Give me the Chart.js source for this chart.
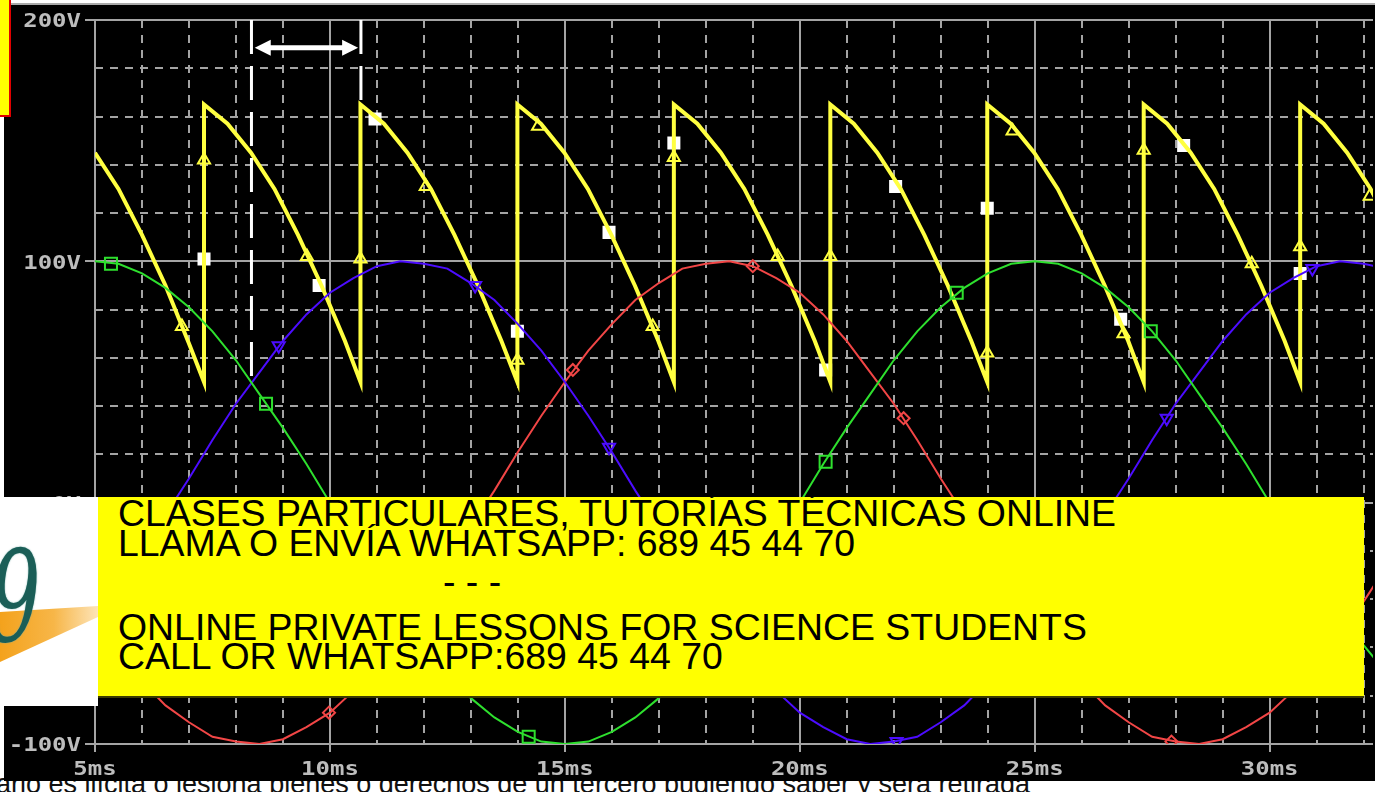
<!DOCTYPE html>
<html>
<head>
<meta charset="utf-8">
<script src="https://cdn.jsdelivr.net/npm/chart.js@4.4.0/dist/chart.umd.min.js"></script>
<style>
html, body { margin: 0; padding: 0; width: 1375px; height: 792px; overflow: hidden; background: #fff; position: relative; }
#foot { position: absolute; left: -4px; top: 771px; font: 27px "Liberation Sans", Arial, sans-serif; line-height: 27px; color: #111; white-space: nowrap; z-index: 0; }
#scope { position: absolute; left: 4px; top: 5px; width: 1371px; height: 776px; background: #000; z-index: 1; }
#topline { position: absolute; left: 0; top: 3px; width: 1375px; height: 2px; background: #a9a9a9; z-index: 1; }
#c { position: absolute; left: 0; top: 0; z-index: 2; }
#tag { position: absolute; left: 0; top: 0; width: 9px; height: 115px; background: #ffff00; border-right: 2px solid #e00000; border-bottom: 2px solid #e00000; z-index: 3; }
#logo { position: absolute; left: 0; top: 497px; width: 98px; height: 209px; background: #fff; overflow: hidden; z-index: 3; }
#logo .swoosh { position: absolute; left: 0; top: 0; width: 98px; height: 209px;
  background: linear-gradient(90deg, #f4a21c 0%, #f7b648 55%, #fde4b8 100%);
  clip-path: polygon(0 115px, 98px 109px, 98px 120px, 0 165px); }
#logo .nine { position: absolute; left: -10px; top: 36px; font: italic 128px "DejaVu Serif", serif; line-height: 128px; color: #1b5e57; transform: scaleX(0.62); transform-origin: 0 0; text-shadow: 0 0 2px #6fa9a2; }
#ad { position: absolute; left: 98px; top: 497px; width: 1266px; height: 199px; background: #ffff00; border-bottom: 2px solid #3a3a00; overflow: hidden; z-index: 3; }
#ad div { position: absolute; left: 20px; font: 37.4px "Liberation Sans", Arial, sans-serif; line-height: 37px; color: #000; white-space: nowrap; }
</style>
</head>
<body>
<div id="foot">ario es ilícita o lesiona bienes o derechos de un tercero pudiendo saber y será retirada</div>
<div id="scope"></div>
<div id="topline"></div>
<canvas id="c" width="1375" height="792"></canvas>
<div id="tag"></div>
<div id="logo"><div class="swoosh"></div><span class="nine">9</span></div>
<div id="ad">
  <div style="top:-2px">CLASES PARTICULARES, TUTORÍAS TÉCNICAS ONLINE</div>
  <div style="top:28px">LLAMA O ENVÍA WHATSAPP: 689 45 44 70</div>
  <div style="top:66px;left:345px">- - -</div>
  <div style="top:112px">ONLINE PRIVATE LESSONS FOR SCIENCE STUDENTS</div>
  <div style="top:141px">CALL OR WHATSAPP:689 45 44 70</div>
</div>
<script>
// time axis samples (ms) for the three phase voltages
const timeMs = [5,5.5,6,6.5,7,7.5,8,8.5,9,9.5,10,10.5,11,11.5,12,12.5,13,13.5,14,14.5,
  15,15.5,16,16.5,17,17.5,18,18.5,19,19.5,20,20.5,21,21.5,22,22.5,23,23.5,24,24.5,
  25,25.5,26,26.5,27,27.5,28,28.5,29,29.5,30,30.5,31,31.5,32,32.5];
// phase voltages (V)
const phaseGreen = [100,99,95,89,81,71,59,45,31,16,0,-16,-31,-45,-59,-71,-81,-89,-95,-99,
  -100,-99,-95,-89,-81,-71,-59,-45,-31,-16,0,16,31,45,59,71,81,89,95,99,
  100,99,95,89,81,71,59,45,31,16,0,-16,-31,-45,-59,-71];
const phaseBlue = [-50,-36,-21,-5,10,26,41,54,67,78,87,93,98,100,99,97,91,84,74,63,
  50,36,21,5,-10,-26,-41,-54,-67,-78,-87,-93,-98,-100,-99,-97,-91,-84,-74,-63,
  -50,-36,-21,-5,10,26,41,54,67,78,87,93,98,100,99,97];
const phaseRed = [-50,-63,-74,-84,-91,-97,-99,-100,-98,-93,-87,-78,-67,-54,-41,-26,-10,5,21,36,
  50,63,74,84,91,97,99,100,98,93,87,78,67,54,41,26,10,-5,-21,-36,
  -50,-63,-74,-84,-91,-97,-99,-100,-98,-93,-87,-78,-67,-54,-41,-26];

// rectified output (yellow)
const outT = [5,5.5,6,6.5,7,7.32,
  7.32,7.82,8.32,8.82,9.32,9.82,10.32,10.65,
  10.65,11.15,11.65,12.15,12.65,13.15,13.65,13.99,
  13.99,14.49,14.99,15.49,15.99,16.49,16.99,17.32,
  17.32,17.82,18.32,18.82,19.32,19.82,20.32,20.65,
  20.65,21.15,21.65,22.15,22.65,23.15,23.65,23.99,
  23.99,24.49,24.99,25.49,25.99,26.49,26.99,27.32,
  27.32,27.82,28.32,28.82,29.32,29.82,30.32,30.65,
  30.65,31.15,31.65,32.15,32.65];
const outV = [145,130,111,90,66,50,
  165,157,145,130,111,90,67,50,
  165,157,145,130,111,90,67,50,
  165,157,145,130,111,90,67,50,
  165,157,145,130,111,90,67,50,
  165,157,145,130,111,90,67,50,
  165,157,145,130,111,90,67,50,
  165,157,145,130,111,90,67,50,
  165,157,145,130,111];

// trace markers
const triT = [6.85,7.32,9.51,10.65,12.04,13.99,14.43,16.87,17.32,19.53,20.65,23.99,24.53,26.89,27.32,29.62,30.65,32.13];
const triV = [73,142,102,101,131,59,156,73,143,102,102,62,154,70,146,99,106,127];
const sqT = [7.32,9.77,10.96,13.99,15.94,17.32,20.55,22.04,23.99,26.83,28.17,30.65];
const sqV = [101,90,159,71,112,149,55,131,122,76,148,95];
const greenMarkT = [5.34,8.64,14.23,20.55,23.34,27.47];
const greenMarkV = [99,41,-97,17,87,71];
const blueMarkT = [8.91,13.09,15.94,22.06,27.81,30.91];
const blueMarkV = [65,90,23,-99,35,97];
const redMarkT = [9.98,15.17,19.0,22.21,27.91];
const redMarkV = [-87,55,98,35,-99];

// axis labels
const xTicks = [5,10,15,20,25,30];
const xLabels = ["5ms","10ms","15ms","20ms","25ms","30ms"];
const yTicks = [200,100,0,-100];
const yLabels = ["200V","100V","0V","-100V"];

// measurement cursors
const cursorT = [8.33,10.66];
const cursorLow = [50,165];
const arrowT = [8.40,10.60];
const arrowV = 188.5;

const pts = (xs, ys) => xs.map((v, i) => ({ x: v, y: ys[i] }));
const GRID = "#a4a4a4";

function line(data, color, width) {
  return { data, showLine: true, borderColor: color, borderWidth: width, pointRadius: 0, tension: 0, fill: false };
}
function marks(data, style, radius, color, fillColor, rotation) {
  return { data, showLine: false, pointStyle: style, pointRadius: radius, pointRotation: rotation || 0,
    pointBorderColor: color, pointBackgroundColor: fillColor, pointBorderWidth: 2 };
}

const scopePlugin = {
  id: "scope",
  afterDatasetsDraw(chart) {
    const { ctx, scales: { x, y } } = chart;
    ctx.save();
    ctx.strokeStyle = "#fff";
    ctx.lineWidth = 3;
    ctx.setLineDash([34, 12]);
    cursorT.forEach((t, i) => {
      ctx.beginPath();
      ctx.moveTo(x.getPixelForValue(t), y.getPixelForValue(200));
      ctx.lineTo(x.getPixelForValue(t), y.getPixelForValue(cursorLow[i]));
      ctx.stroke();
    });
    ctx.setLineDash([]);
    const ay = y.getPixelForValue(arrowV);
    const x1 = x.getPixelForValue(arrowT[0]);
    const x2 = x.getPixelForValue(arrowT[1]);
    const head = 16;
    ctx.lineWidth = 5;
    ctx.beginPath();
    ctx.moveTo(x1 + head - 2, ay);
    ctx.lineTo(x2 - head + 2, ay);
    ctx.stroke();
    ctx.fillStyle = "#fff";
    ctx.beginPath();
    ctx.moveTo(x1, ay); ctx.lineTo(x1 + head, ay - 8); ctx.lineTo(x1 + head, ay + 8); ctx.closePath();
    ctx.moveTo(x2, ay); ctx.lineTo(x2 - head, ay - 8); ctx.lineTo(x2 - head, ay + 8); ctx.closePath();
    ctx.fill();
    ctx.restore();
  },
  afterDraw(chart) {
    const { ctx, scales: { x, y } } = chart;
    ctx.save();
    ctx.fillStyle = "#bdbdbd";
    ctx.font = 'bold 20px "DejaVu Sans Mono"';
    ctx.textBaseline = "middle";
    xTicks.forEach((v, i) => {
      ctx.save();
      ctx.translate(x.getPixelForValue(v), 770);
      ctx.scale(1.2, 1);
      ctx.textAlign = "center";
      ctx.fillText(xLabels[i], 0, 0);
      ctx.restore();
    });
    yTicks.forEach((v, i) => {
      ctx.save();
      ctx.translate(81, y.getPixelForValue(v) + 2);
      ctx.scale(1.2, 1);
      ctx.textAlign = "right";
      ctx.fillText(yLabels[i], 0, 0);
      ctx.restore();
    });
    ctx.restore();
  }
};

const isMajor = (v, step) => Math.abs(v / step - Math.round(v / step)) < 1e-6;

new Chart(document.getElementById("c"), {
  type: "scatter",
  data: {
    datasets: [
      line(pts(timeMs, phaseGreen), "#2ee02e", 2),
      line(pts(timeMs, phaseBlue), "#4c0cff", 2),
      line(pts(timeMs, phaseRed), "#f24646", 2),
      marks(pts(greenMarkT, greenMarkV), "rect", 8.5, "#2ee02e", "rgba(0,0,0,0)"),
      marks(pts(blueMarkT, blueMarkV), "triangle", 7, "#4c0cff", "rgba(0,0,0,0)", 180),
      marks(pts(redMarkT, redMarkV), "rectRot", 6, "#f24646", "rgba(0,0,0,0)"),
      line(pts(outT, outV), "#ffff40", 4),
      marks(pts(triT, triV), "triangle", 7, "#ffff40", "rgba(0,0,0,0)"),
      marks(pts(sqT, sqV), "rect", 7.8, "#ffffff", "#ffffff")
    ]
  },
  plugins: [scopePlugin],
  options: {
    responsive: false,
    animation: false,
    devicePixelRatio: 1,
    layout: { autoPadding: false, padding: { left: 85, top: 20, right: 2, bottom: 40 } },
    plugins: { legend: { display: false }, tooltip: { enabled: false } },
    scales: {
      x: {
        type: "linear", min: 5, max: 32.2,
        ticks: { stepSize: 1, display: false, includeBounds: false },
        grid: {
          color: GRID, lineWidth: 2, drawTicks: true, tickLength: 8,
          tickColor: (c) => isMajor(c.tick.value, 5) ? GRID : "rgba(0,0,0,0)"
        },
        border: { display: false, dash: (c) => isMajor(c.tick.value, 5) ? [] : [8, 7] }
      },
      y: {
        type: "linear", min: -100, max: 200,
        ticks: { stepSize: 20, display: false },
        grid: {
          color: GRID, lineWidth: 2, drawTicks: true, tickLength: 10,
          tickColor: (c) => isMajor(c.tick.value, 100) ? GRID : "rgba(0,0,0,0)"
        },
        border: { display: false, dash: (c) => isMajor(c.tick.value, 100) ? [] : [8, 7] }
      }
    }
  }
});
</script>
</body>
</html>
